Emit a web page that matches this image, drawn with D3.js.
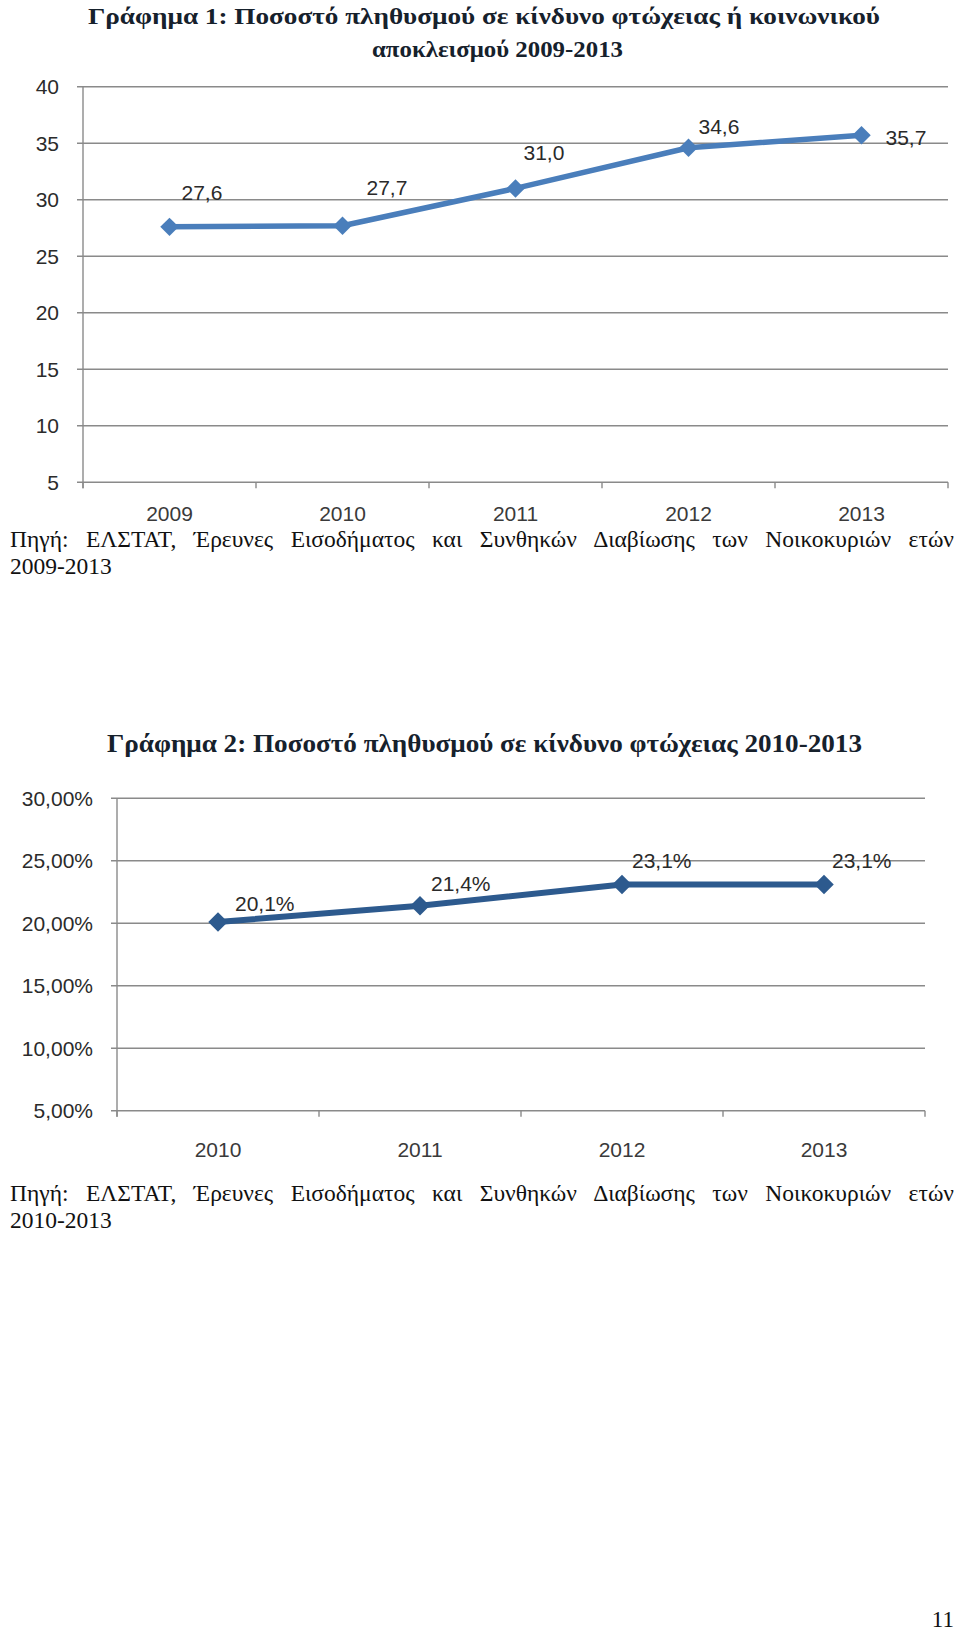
<!DOCTYPE html>
<html>
<head>
<meta charset="utf-8">
<script src="https://cdn.jsdelivr.net/npm/d3@7"></script>
<style>
  html, body { margin: 0; padding: 0; background: #fff; }
  svg { display: block; }
</style>
</head>
<body>
<svg id="page" width="960" height="1632"></svg>
<script>
// ---------- DATA ----------
const years1 = ["2009", "2010", "2011", "2012", "2013"];
const values1 = [27.6, 27.7, 31.0, 34.6, 35.7];
const labels1 = ["27,6", "27,7", "31,0", "34,6", "35,7"];
const yTicks1 = [5, 10, 15, 20, 25, 30, 35, 40];

const years2 = ["2010", "2011", "2012", "2013"];
const values2 = [20.1, 21.4, 23.1, 23.1];
const labels2 = ["20,1%", "21,4%", "23,1%", "23,1%"];
const yTicks2 = [5, 10, 15, 20, 25, 30];

const title1Lines = ["Γράφημα 1: Ποσοστό πληθυσμού σε κίνδυνο φτώχειας ή κοινωνικού", "αποκλεισμού 2009-2013"];
const title2 = "Γράφημα 2: Ποσοστό πληθυσμού σε κίνδυνο φτώχειας 2010-2013";
const source1 = ["Πηγή: ΕΛΣΤΑΤ, Έρευνες Εισοδήματος και Συνθηκών Διαβίωσης των Νοικοκυριών ετών", "2009-2013"];
const source2 = ["Πηγή: ΕΛΣΤΑΤ, Έρευνες Εισοδήματος και Συνθηκών Διαβίωσης των Νοικοκυριών ετών", "2010-2013"];
const pageNumber = "11";

// label placement (left-edge dx, baseline dy relative to the point) – layout, not data
const labelOffsets1 = [[12, -27], [24, -31], [8, -28], [10, -14], [24, 10]];
const labelOffsets2 = [[17, -11], [11, -15], [10, -17], [8, -17]];

// ---------- DRAW ----------
const svg = d3.select("#page");
const serif = "'Liberation Serif', 'Times New Roman', serif";
const sans = "'Liberation Sans', Arial, sans-serif";
const gridColor = "#8a8a8a";
const titleColor = "#16212c";

function fitText(sel, width) {
  sel.attr("textLength", width).attr("lengthAdjust", "spacingAndGlyphs");
}

function justify(textSel, target) {
  const node = textSel.node();
  const natural = node.getComputedTextLength();
  const txt = node.textContent;
  const spaces = (txt.match(/ /g) || []).length;
  if (natural < target && spaces > 0) {
    textSel.style("word-spacing", ((target - natural) / spaces) + "px");
  } else {
    fitText(textSel, target);
  }
}

function drawChart(cfg) {
  const g = svg.append("g");
  const x = d3.scaleBand().domain(cfg.years).range([cfg.left, cfg.right]).padding(0);
  const y = d3.scaleLinear().domain(cfg.domain).range([cfg.bottom, cfg.top]);

  // gridlines
  g.append("g").selectAll("line").data(cfg.ticks).join("line")
    .attr("x1", cfg.left - 6).attr("x2", cfg.right)
    .attr("y1", d => y(d)).attr("y2", d => y(d))
    .attr("stroke", gridColor).attr("stroke-width", 1.4);

  // y axis line
  g.append("line")
    .attr("x1", cfg.left).attr("x2", cfg.left)
    .attr("y1", y(cfg.domain[1])).attr("y2", cfg.bottom + 6)
    .attr("stroke", gridColor).attr("stroke-width", 1.4);

  // x tick marks at band boundaries
  const bounds = cfg.years.map(d => x(d)).concat([x(cfg.years[cfg.years.length - 1]) + x.bandwidth()]);
  g.append("g").selectAll("line").data(bounds).join("line")
    .attr("x1", d => d).attr("x2", d => d)
    .attr("y1", cfg.bottom).attr("y2", cfg.bottom + 6)
    .attr("stroke", gridColor).attr("stroke-width", 1.4);

  // y tick labels
  g.append("g").selectAll("text").data(cfg.ticks).join("text")
    .attr("x", cfg.left - 24).attr("y", d => y(d) + 7.5)
    .attr("text-anchor", "end")
    .attr("font-family", sans).attr("font-size", 21).attr("fill", "#2b2b2b")
    .text(cfg.tickFormat);

  // x labels
  g.append("g").selectAll("text").data(cfg.years).join("text")
    .attr("x", d => x(d) + x.bandwidth() / 2).attr("y", cfg.bottom + cfg.xLabelDy)
    .attr("text-anchor", "middle")
    .attr("font-family", sans).attr("font-size", 21).attr("fill", "#3a3a3a")
    .text(d => d);

  const pts = cfg.values.map((v, i) => [x(cfg.years[i]) + x.bandwidth() / 2, y(v)]);

  // line
  g.append("path")
    .attr("d", d3.line()(pts))
    .attr("fill", "none").attr("stroke", cfg.color)
    .attr("stroke-width", cfg.lineWidth).attr("stroke-linejoin", "round");

  // markers (rotated squares)
  const sym = d3.symbol(d3.symbolSquare, cfg.markerArea);
  g.append("g").selectAll("path").data(pts).join("path")
    .attr("d", sym)
    .attr("transform", d => `translate(${d[0]},${d[1]}) rotate(45)`)
    .attr("fill", cfg.color);

  // data labels
  g.append("g").selectAll("text").data(pts).join("text")
    .attr("x", (d, i) => d[0] + cfg.offsets[i][0])
    .attr("y", (d, i) => d[1] + cfg.offsets[i][1])
    .attr("font-family", sans).attr("font-size", 21).attr("fill", "#2a2a2a")
    .text((d, i) => cfg.labels[i]);
}

// Title 1
const t1a = svg.append("text").attr("x", 88).attr("y", 24)
  .attr("font-family", serif).attr("font-weight", "bold").attr("font-size", 23)
  .attr("fill", titleColor).text(title1Lines[0]);
fitText(t1a, 792);
const t1b = svg.append("text").attr("x", 372).attr("y", 57)
  .attr("font-family", serif).attr("font-weight", "bold").attr("font-size", 23)
  .attr("fill", titleColor).text(title1Lines[1]);
fitText(t1b, 251);

drawChart({
  years: years1, values: values1, labels: labels1, ticks: yTicks1,
  domain: [5, 40], left: 83, right: 948, top: 86.7, bottom: 482.3,
  tickFormat: d => String(d), color: "#4a7ebb", lineWidth: 5.5, markerArea: 170,
  offsets: labelOffsets1, xLabelDy: 39
});

// Source 1
source1.forEach((line, i) => {
  const t = svg.append("text").attr("x", 10).attr("y", 547 + i * 27)
    .attr("font-family", serif).attr("font-size", 23.5).attr("fill", "#111")
    .text(line);
  if (i === 0) justify(t, 944);
});

// Title 2
const t2 = svg.append("text").attr("x", 107).attr("y", 752)
  .attr("font-family", serif).attr("font-weight", "bold").attr("font-size", 26)
  .attr("fill", titleColor).text(title2);
fitText(t2, 755);

drawChart({
  years: years2, values: values2, labels: labels2, ticks: yTicks2,
  domain: [5, 30], left: 117, right: 925, top: 798.3, bottom: 1110.7,
  tickFormat: d => d3.format(".2f")(d).replace(".", ",") + "%",
  color: "#2d5a8e", lineWidth: 6, markerArea: 190,
  offsets: labelOffsets2, xLabelDy: 46
});

// Source 2
source2.forEach((line, i) => {
  const t = svg.append("text").attr("x", 10).attr("y", 1201 + i * 27)
    .attr("font-family", serif).attr("font-size", 23.5).attr("fill", "#111")
    .text(line);
  if (i === 0) justify(t, 944);
});

// page number
svg.append("text").attr("x", 954).attr("y", 1627).attr("text-anchor", "end")
  .attr("font-family", serif).attr("font-size", 23).attr("fill", "#111")
  .text(pageNumber);
</script>
</body>
</html>
